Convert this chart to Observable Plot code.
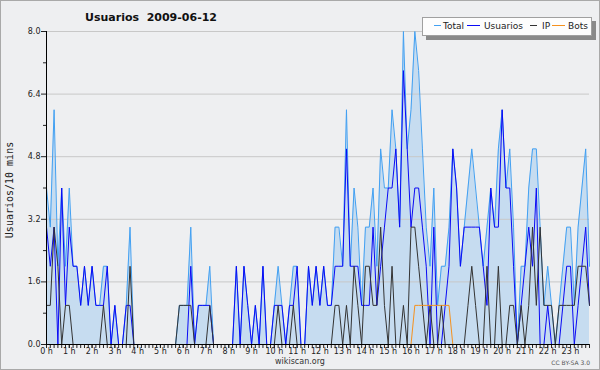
<!DOCTYPE html>
<html>
<head>
<meta charset="utf-8">
<script src="https://cdn.jsdelivr.net/npm/d3@7"></script>
<script src="https://cdn.jsdelivr.net/npm/@observablehq/plot@0.6"></script>
<style>
html, body { margin: 0; padding: 0; background: #eeeff1; }
#wrap { position: relative; width: 600px; height: 370px; overflow: hidden; background: #eeeff1; font-family: "DejaVu Sans", sans-serif; }
#chart { position: absolute; left: 0; top: 0; width: 600px; height: 370px; }
#chart svg { display: block; }
#overlay { position: absolute; left: 0; top: 0; }
</style>
</head>
<body>
<div id="wrap">
  <div id="chart"></div>
  <svg id="overlay" width="600" height="370" xmlns="http://www.w3.org/2000/svg" font-family="DejaVu Sans, sans-serif">
    <rect x="0.5" y="0.5" width="599" height="369" fill="none" stroke="#a9a9a9"/>
    <text x="151" y="21" text-anchor="middle" font-weight="bold" font-size="11" fill="#111">Usuarios&#160; 2009-06-12</text>
    <text transform="translate(13,190) rotate(-90)" text-anchor="middle" font-family="DejaVu Sans Mono, monospace" font-size="10" fill="#222">Usuarios/10 mins</text>
    <text x="300" y="364" text-anchor="middle" font-size="8" fill="#333">wikiscan.org</text>
    <text x="590" y="365" text-anchor="end" font-size="6" fill="#555">CC BY-SA 3.0</text>
    <g id="legend">
      <rect x="426" y="21" width="170" height="19" fill="#8a8a8a"/>
      <rect x="422.5" y="17.5" width="169" height="18" fill="#fdfdfd" stroke="#a0a0a0"/>
      <line x1="434" x2="441" y1="25.5" y2="25.5" stroke="#42a0f2"/>
      <text x="443" y="29" font-size="9" fill="#222">Total</text>
      <line x1="467" x2="480" y1="25.5" y2="25.5" stroke="#0a0af5"/>
      <text x="484" y="29" font-size="9" fill="#222">Usuarios</text>
      <line x1="530" x2="537" y1="25.5" y2="25.5" stroke="#333"/>
      <text x="542" y="29" font-size="9" fill="#222">IP</text>
      <line x1="552" x2="565" y1="25.5" y2="25.5" stroke="#f5911e"/>
      <text x="568" y="29" font-size="9" fill="#222">Bots</text>
    </g>
  </svg>
</div>
<script>
// 10-minute intervals, 0h00 .. 23h50
const usuarios = [
  3,2,3,0,4,1,3,2,2,1,
  2,1,2,1,1,1,2,0,1,0,
  0,1,1,0,0,0,0,0,0,0,
  0,0,0,0,0,0,0,0,2,0,
  1,1,1,1,0,0,0,0,0,0,
  2,0,2,1,0,1,0,2,0,0,
  1,1,1,0,1,1,2,0,0,2,
  1,2,1,2,1,1,2,2,2,5,
  2,2,2,1,1,1,3,1,2,3,
  4,4,5,3,7,5,3,4,4,3,
  2,0,3,0,0,1,2,5,4,2,
  3,3,3,3,3,2,1,4,3,3,
  6,4,4,2,0,1,2,3,2,4,
  0,0,1,0,0,0,1,2,2,0,
  1,2,3,1
];
const ip = [
  1,1,3,2,0,1,1,0,0,0,
  0,0,0,0,0,1,0,0,0,0,
  0,0,2,0,0,0,0,0,0,0,
  0,0,0,0,0,1,1,1,1,0,
  0,0,0,1,0,0,0,0,0,0,
  0,0,0,0,0,0,0,0,0,0,
  0,1,0,0,0,1,0,0,0,0,
  0,0,0,0,0,0,1,1,0,1,
  0,2,1,0,2,2,1,1,3,1,
  0,2,0,0,1,0,3,3,2,1,
  0,1,0,0,1,0,0,0,0,0,
  0,1,2,1,0,0,2,0,0,2,
  0,0,1,1,0,1,0,1,3,1,
  3,1,1,1,0,1,1,1,1,1,
  2,2,2,1
];
const bots = [
  0,0,0,0,0,0,0,0,0,0,
  0,0,0,0,0,0,0,0,0,0,
  0,0,0,0,0,0,0,0,0,0,
  0,0,0,0,0,0,0,0,0,0,
  0,0,0,0,0,0,0,0,0,0,
  0,0,0,0,0,0,0,0,0,0,
  0,0,0,0,0,0,0,0,0,0,
  0,0,0,0,0,0,0,0,0,0,
  0,0,0,0,0,0,0,0,0,0,
  0,0,0,0,0,0,0,1,1,1,
  1,1,1,1,1,1,1,0,0,0,
  0,0,0,0,0,0,0,0,0,0,
  0,0,0,0,0,0,0,0,0,0,
  0,0,0,0,0,0,0,0,0,0,
  0,0,0,0
];
const total = [
  4,3,6,2,4,2,4,2,2,1,
  2,1,2,1,1,2,2,0,1,0,
  0,1,3,0,0,0,0,0,0,0,
  0,0,0,0,0,1,1,1,3,0,
  1,1,1,2,0,0,0,0,0,0,
  2,0,2,1,0,1,0,2,0,0,
  1,2,1,0,1,2,2,0,0,2,
  1,2,1,2,1,1,3,3,2,6,
  2,4,3,1,3,3,4,2,5,4,
  4,6,5,3,8,5,6,8,7,5,
  3,2,4,1,2,2,3,5,4,2,
  3,4,5,4,3,2,3,4,3,5,
  6,4,5,3,0,2,2,4,5,5,
  3,1,2,1,0,1,2,3,3,1,
  3,4,5,2
];
const yMajor = [0, 1.6, 3.2, 4.8, 6.4, 8.0];
const yMinor = [0.8, 2.4, 4.0, 5.6, 7.2];
const gridValues = [1.6, 3.2, 4.8, 6.4, 8.0];
const hourTicks = d3.range(0, 1440, 60);
const tenMinTicks = d3.range(0, 1440, 10);

const rows = total.map((t, i) => ({m: i * 10, total: t, usuarios: usuarios[i], ip: ip[i], bots: bots[i]}));

const chart = Plot.plot({
  width: 600,
  height: 370,
  marginLeft: 46,
  marginRight: 11,
  marginTop: 31,
  marginBottom: 26,
  style: {background: "transparent", fontFamily: "DejaVu Sans, sans-serif", fontSize: "8px", color: "#222"},
  x: {domain: [0, 1430], label: null},
  y: {domain: [0, 8], label: null},
  marks: [
    Plot.areaY(rows, {x: "m", y: "total", fill: "#c6dcf0"}),
    Plot.ruleY(gridValues, {stroke: "#c8c8c8"}),
    Plot.lineY(rows, {x: "m", y: "total", stroke: "#42a0f2", strokeWidth: 1}),
    Plot.lineY(rows, {x: "m", y: "usuarios", stroke: "#0a0af5", strokeWidth: 1}),
    Plot.lineY(rows, {x: "m", y: "ip", stroke: "#333333", strokeWidth: 1}),
    Plot.lineY(rows, {x: "m", y: "bots", stroke: "#f5911e", strokeWidth: 1}),
    Plot.axisY(yMajor, {tickSize: 5, tickPadding: 1, tickFormat: d => d.toFixed(1), fontSize: 8, label: null}),
    Plot.axisY(yMinor, {tickSize: 3, tickFormat: () => "", label: null}),
    Plot.axisX(hourTicks, {tickSize: 4, tickPadding: 0, tickFormat: d => `${d / 60} h`, fontSize: 8, label: null}),
    Plot.axisX(tenMinTicks, {tickSize: 4, tickFormat: () => "", label: null}),
    Plot.ruleX([0], {stroke: "#000"}),
    Plot.ruleY([0], {stroke: "#000"})
  ]
});
document.getElementById("chart").appendChild(chart);
</script>
</body>
</html>
